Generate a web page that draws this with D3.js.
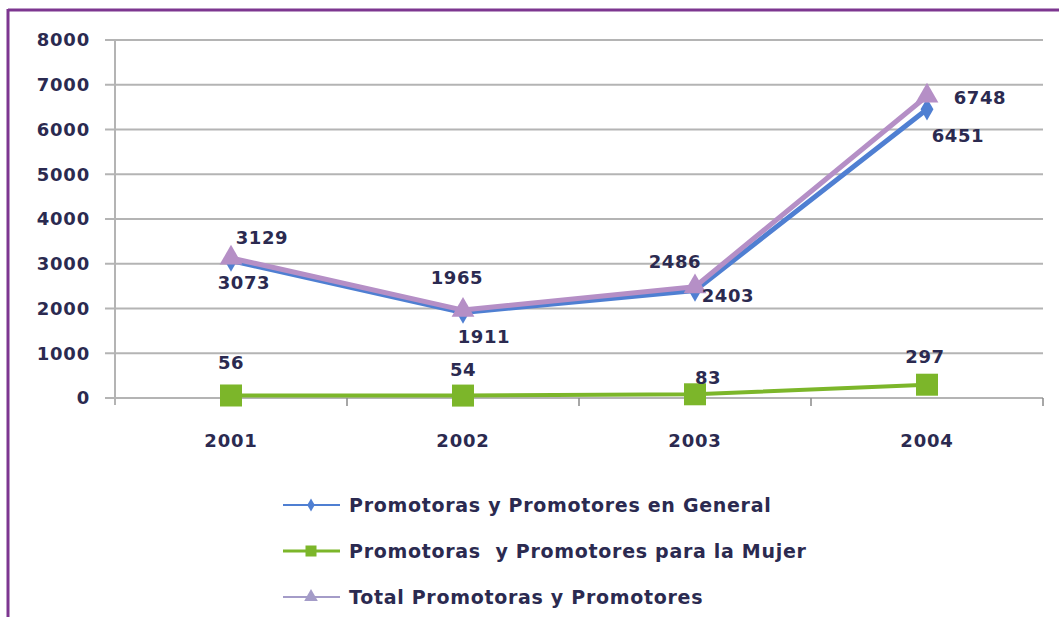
<!DOCTYPE html>
<html>
<head>
<meta charset="utf-8">
<script src="https://cdn.jsdelivr.net/npm/d3@7"></script>
<style>
  body { margin: 0; background: #fff; }
  svg text { font-family: "DejaVu Sans", sans-serif; font-weight: bold; fill: #2b2a50; }
</style>
</head>
<body>
<svg id="chart" width="1059" height="617"></svg>
<script>
// chart data
var years = ["2001", "2002", "2003", "2004"];
var general = [3073, 1911, 2403, 6451];
var mujer = [56, 54, 83, 297];
var total = [3129, 1965, 2486, 6748];
var yTicks = [0, 1000, 2000, 3000, 4000, 5000, 6000, 7000, 8000];
var seriesNames = [
  "Promotoras y Promotores en General",
  "Promotoras  y Promotores para la Mujer",
  "Total Promotoras y Promotores"
];

//label offsets from each point, in px (dx, dy)
var labelOffsets = {
  general: [[13, 22], [21, 24], [33, 5], [31, 26]],
  mujer: [[0, -33], [0, -26], [13, -17], [-2, -28]],
  total: [[31, -20], [-6, -33], [-20, -25], [53, 1]]
};

var svg = d3.select("#chart");

// purple frame, top and left only
svg.append("rect").attr("x", 0).attr("y", 0).attr("width", 1059).attr("height", 617).attr("fill", "#fff");
svg.append("line").attr("x1", 8).attr("x2", 1059).attr("y1", 10).attr("y2", 10)
   .attr("stroke", "#7d3690").attr("stroke-width", 3);
svg.append("line").attr("x1", 8).attr("x2", 8).attr("y1", 9).attr("y2", 617)
   .attr("stroke", "#7d3690").attr("stroke-width", 3);

var x = d3.scaleBand().domain(years).range([115, 1043]);
var y = d3.scaleLinear().domain([0, 8000]).range([398, 40]);

//Gridlines
svg.append("g").selectAll("line").data(yTicks).enter().append("line")
   .attr("x1", 105).attr("x2", 1043)
   .attr("y1", function(d){ return y(d); }).attr("y2", function(d){ return y(d); })
   .attr("stroke", "#b4b4b4").attr("stroke-width", 2);

// y axis
var yAxis = svg.append("g").attr("transform", "translate(115,0)")
   .call(d3.axisLeft(y).tickValues(yTicks).tickFormat(d3.format("d")).tickSize(0).tickPadding(25));
yAxis.select(".domain").remove();
yAxis.selectAll("text").style("font-size", "18px").attr("fill", "#2b2a50")
   .style("letter-spacing", "0.8px")
   .style("font-family", "DejaVu Sans, sans-serif");
svg.append("line").attr("x1", 115).attr("x2", 115).attr("y1", 40).attr("y2", 405)
   .attr("stroke", "#b4b4b4").attr("stroke-width", 2);

// x axis, ticks between categories
var bounds = years.map(function(d){ return x(d); }).concat([x.range()[1]]).slice(1);
svg.append("g").selectAll("line").data(bounds).enter().append("line")
   .attr("x1", function(d){ return d; }).attr("x2", function(d){ return d; })
   .attr("y1", 398).attr("y2", 406)
   .attr("stroke", "#8a8a8a").attr("stroke-width", 1.5);
svg.append("g").selectAll("text").data(years).enter().append("text")
   .attr("x", function(d){ return x(d) + x.bandwidth() / 2; })
   .attr("y", 447)
   .attr("text-anchor", "middle")
   .style("font-size", "18px")
   .style("letter-spacing", "0.8px")
   .text(function(d){ return d; });

var cx = function(i){ return x(years[i]) + x.bandwidth() / 2; };

var line = d3.line()
   .x(function(d, i){ return cx(i); })
   .y(function(d){ return y(d); });

var series = [
  {key: "general", values: general, color: "#4f7fd2", width: 5, marker: "diamond"},
  {key: "total", values: total, color: "#b58fc6", width: 5, marker: "triangle"},
  {key: "mujer", values: mujer, color: "#7cb62a", width: 4, marker: "square"}
];

//Draws a marker of the given kind
function drawMarker(g, kind, px, py, color, size) {
  if (kind == "square") {
    g.append("rect").attr("x", px - size / 2).attr("y", py - size / 2)
     .attr("width", size).attr("height", size).attr("fill", color);
  } else if (kind == "triangle") {
    g.append("path")
     .attr("d", d3.symbol().type(d3.symbolTriangle).size(size * size)())
     .attr("transform", "translate(" + px + "," + py + ")")
     .attr("fill", color);
  } else {
    g.append("path")
     .attr("d", d3.symbol().type(d3.symbolDiamond).size(size * size)())
     .attr("transform", "translate(" + px + "," + py + ")")
     .attr("fill", color);
  }
}

var sizes = {square: 22, triangle: 15, diamond: 12};

series.forEach(function(s) {
  var g = svg.append("g");
  g.append("path").datum(s.values)
   .attr("d", line)
   .attr("fill", "none")
   .attr("stroke", s.color)
   .attr("stroke-width", s.width)
   .attr("stroke-linejoin", "round");
  s.values.forEach(function(v, i) {
    drawMarker(g, s.marker, cx(i), y(v), s.color, sizes[s.marker]);
  });
});

// data labels
series.forEach(function(s) {
  svg.append("g").selectAll("text").data(s.values).enter().append("text")
     .attr("x", function(d, i){ return cx(i) + labelOffsets[s.key][i][0]; })
     .attr("y", function(d, i){ return y(d) + labelOffsets[s.key][i][1]; })
     .attr("text-anchor", "middle")
     .attr("dominant-baseline", "central")
     .style("font-size", "18px")
     .style("letter-spacing", "0.6px")
     .text(function(d){ return d; });
});

// legend
var legendItems = [
  {name: seriesNames[0], color: "#4f7fd2", marker: "diamond", w: 2, size: 7},
  {name: seriesNames[1], color: "#7cb62a", marker: "square", w: 3, size: 11},
  {name: seriesNames[2], color: "#a49cc8", marker: "triangle", w: 2, size: 9}
];
var legend = svg.append("g");
legendItems.forEach(function(item, i) {
  var ly = 505 + i * 46;
  legend.append("line").attr("x1", 283).attr("x2", 340).attr("y1", ly).attr("y2", ly)
        .attr("stroke", item.color).attr("stroke-width", item.w);
  drawMarker(legend, item.marker, 311, ly, item.color, item.size);
  legend.append("text").attr("x", 349).attr("y", ly)
        .attr("dominant-baseline", "central")
        .style("font-size", "19px")
        .style("letter-spacing", "0.7px")
        .style("white-space", "pre")
        .text(item.name);
});
</script>
</body>
</html>
